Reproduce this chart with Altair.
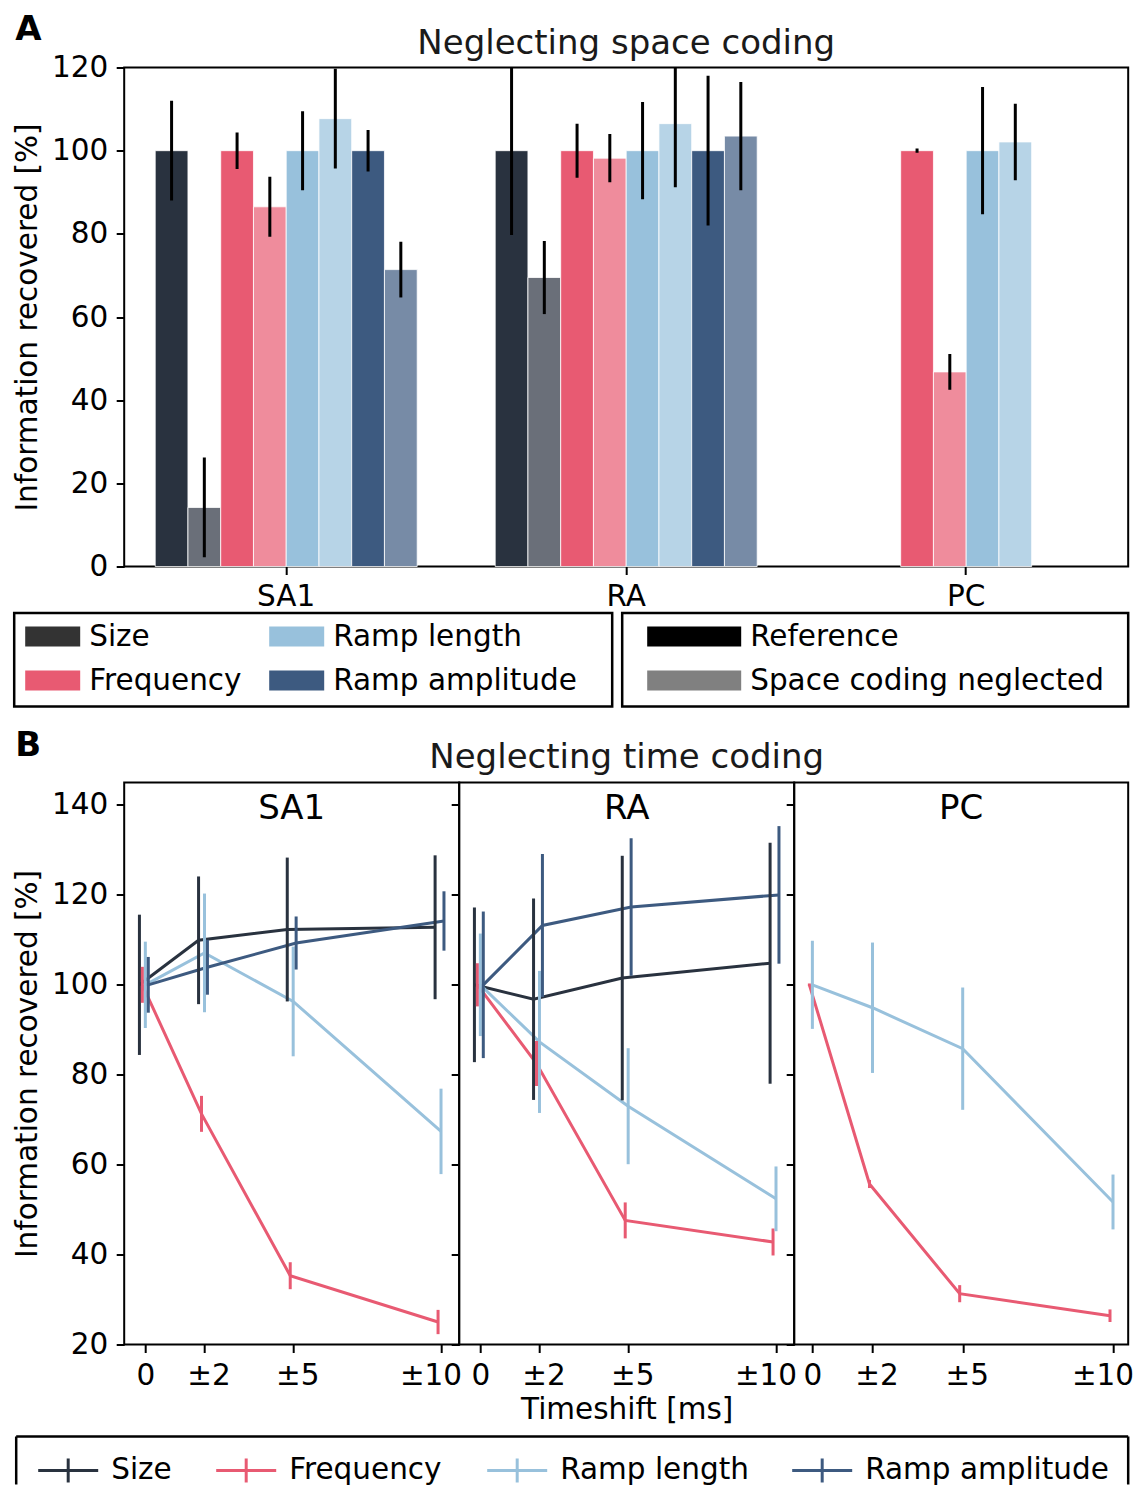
import altair as alt
import pandas as pd

FONT = "DejaVu Sans"
FS = 29.5        # tick labels, axis titles, legend text
FS_TITLE = 34    # panel titles

# ---------------------------------------------------------------- categories
regions = ["SA1", "RA", "PC"]
variables = ["Size", "Frequency", "Ramp length", "Ramp amplitude"]
conditions = ["Reference", "Space coding neglected"]
var_colors = ["#29323f", "#e85a72", "#98c1dc", "#3d5a80"]
neglected_colors = ["#6a6f79", "#ef8c9c", "#b7d4e7", "#778ba6"]
legendA_var_colors = ["#333333", "#e85a72", "#98c1dc", "#3d5a80"]
legendA_cond_colors = ["#000000", "#808080"]

# ---------------------------------------------------------------- panel A data
ref_value = {"SA1": [100, 100, 100, 100], "RA": [100, 100, 100, 100], "PC": [None, 100, 100, None]}
ref_err = {"SA1": [12.0, 4.4, 9.5, 5.0], "RA": [20.3, 6.5, 11.7, 18.0], "PC": [None, 0.5, 15.3, None]}
neg_value = {"SA1": [14.2, 86.5, 107.7, 71.4], "RA": [69.5, 98.2, 106.5, 103.5], "PC": [None, 46.8, 102.1, None]}
neg_err = {"SA1": [12.0, 7.2, 12.0, 6.7], "RA": [8.8, 5.8, 15.3, 13.0], "PC": [None, 4.3, 9.2, None]}

# ---------------------------------------------------------------- panel B data
shifts = [0, 2, 5, 10]
shift_labels = ["0", "±2", "±5", "±10"]
x_offsets = [-0.2, -0.1, 0.0, 0.1]   # per variable (Size, Frequency, Ramp length, Ramp amplitude)
B_mean = {
    "SA1": {"Size": [100, 109.9, 112.3, 112.8], "Frequency": [100, 71.3, 35.3, 25.0],
            "Ramp length": [100, 107.1, 96.3, 67.4], "Ramp amplitude": [100, 103.9, 109.3, 114.2]},
    "RA": {"Size": [100, 96.8, 101.5, 104.8], "Frequency": [100, 82.5, 47.6, 42.8],
           "Ramp length": [100, 87.3, 73.0, 52.4], "Ramp amplitude": [100, 113.2, 117.3, 120.0]},
    "PC": {"Frequency": [100, 55.7, 31.3, 26.4], "Ramp length": [100, 94.9, 85.8, 51.7]},
}
B_err = {
    "SA1": {"Size": [15.6, 14.2, 16.0, 16.0], "Frequency": [4.0, 4.0, 3.0, 2.7],
            "Ramp length": [9.6, 13.2, 12.2, 9.5], "Ramp amplitude": [6.2, 6.1, 5.9, 6.6]},
    "RA": {"Size": [17.2, 22.4, 27.2, 26.8], "Frequency": [4.8, 5.0, 4.0, 3.0],
           "Ramp length": [11.4, 15.8, 12.9, 7.2], "Ramp amplitude": [16.3, 15.9, 15.3, 15.3]},
    "PC": {"Frequency": [0.3, 0.9, 1.9, 1.4], "Ramp length": [9.8, 14.5, 13.6, 6.1]},
}
B_xdomain = {"SA1": [-0.715, 10.615], "RA": [-0.715, 10.615], "PC": [-0.605, 10.505]}

# ================================================================ panel A
rows = []
for r in regions:
    for i, v in enumerate(variables):
        for c, vals, errs in ((conditions[0], ref_value, ref_err), (conditions[1], neg_value, neg_err)):
            val = vals[r][i]
            if val is None:
                continue
            e = errs[r][i]
            rows.append(dict(region=r, variable=v, condition=c, slot=f"{v} / {c}",
                             value=val, lo=val - e, hi=val + e))
dfA = pd.DataFrame(rows)
slot_order = [f"{v} / {c}" for v in variables for c in conditions]
slot_colors = []
for a, b in zip(var_colors, neglected_colors):
    slot_colors += [a, b]

WA, HA = 1004, 499
yscaleA = alt.Scale(domain=[0, 120], nice=False)
axisYA = alt.Axis(values=[0, 20, 40, 60, 80, 100, 120], titlePadding=8.5, labelPadding=8.5)
x_region = alt.X("region:N", sort=regions, title=None,
                 scale=alt.Scale(domain=regions, paddingInner=0.2294, paddingOuter=0.0912),
                 axis=alt.Axis(labelAngle=0, labelPadding=8))
x_slot = alt.XOffset("slot:N", sort=slot_order,
                     scale=alt.Scale(domain=slot_order, paddingInner=0, paddingOuter=0))

bars = alt.Chart(dfA).mark_bar(stroke="white", strokeWidth=0.8).encode(
    x=x_region, xOffset=x_slot,
    y=alt.Y("value:Q", title="Information recovered [%]", scale=yscaleA, axis=axisYA),
    color=alt.Color("slot:N", scale=alt.Scale(domain=slot_order, range=slot_colors), legend=None),
)
errA = alt.Chart(dfA).mark_rule(color="black", strokeWidth=3, clip=True).encode(
    x=x_region, xOffset=x_slot,
    y=alt.Y("lo:Q", title="Information recovered [%]", scale=yscaleA, axis=axisYA),
    y2="hi:Q",
)

def px(field):
    return alt.X(field, type="quantitative", scale=None, axis=None)

def py(field):
    return alt.Y(field, type="quantitative", scale=None, axis=None)

# legend A (positions relative to the plot area)
row_y = [569, 613]
boxesA = pd.DataFrame({"x0": [-110, 498], "x1": [488, 1004], "y0": [545.5, 545.5], "y1": [639, 639]})
swA = []
for i, (lab, col) in enumerate(zip(variables, legendA_var_colors)):
    c, rr = i // 2, i % 2
    x0 = -99 + c * 244
    swA.append(dict(label=lab, color=col, x0=x0, x1=x0 + 55, yc=row_y[rr]))
for i, (lab, col) in enumerate(zip(conditions, legendA_cond_colors)):
    swA.append(dict(label=lab, color=col, x0=523, x1=617, yc=row_y[i]))
swA = pd.DataFrame(swA)
swA["y0"] = swA["yc"] - 10
swA["y1"] = swA["yc"] + 10
swA["tx"] = swA["x1"] + 9

boxA = alt.Chart(boxesA).mark_rect(fill="white", fillOpacity=0, stroke="black", strokeWidth=2.5).encode(
    x=px("x0"), x2="x1", y=py("y0"), y2="y1")
swatchA = alt.Chart(swA).mark_rect().encode(
    x=px("x0"), x2="x1", y=py("y0"), y2="y1", color=alt.Color("color:N", scale=None))
textA = alt.Chart(swA).mark_text(align="left", baseline="middle", font=FONT, fontSize=FS, color="black").encode(
    x=px("tx"), y=py("yc"), text="label:N")

tagA = alt.Chart(pd.DataFrame({"t": ["A"]})).mark_text(
    align="left", baseline="alphabetic", font=FONT, fontSize=FS_TITLE, fontWeight="bold", color="black"
).encode(text="t:N", x=alt.value(-109), y=alt.value(-27.5))
titleA = alt.Chart(pd.DataFrame({"t": ["Neglecting space coding"]})).mark_text(
    align="center", baseline="alphabetic", font=FONT, fontSize=FS_TITLE, color="#1a1a1a"
).encode(text="t:N", x=alt.value(WA / 2), y=alt.value(-13.5))

chartA = alt.layer(bars, errA, boxA, swatchA, textA, tagA, titleA).properties(width=WA, height=HA)

# ================================================================ panel B
rowsB = []
for r in regions:
    for v, off in zip(variables, x_offsets):
        if v not in B_mean[r]:
            continue
        for s, m, e in zip(shifts, B_mean[r][v], B_err[r][v]):
            rowsB.append(dict(region=r, variable=v, shift=s, xpos=s + off, value=m, lo=m - e, hi=m + e))
dfB = pd.DataFrame(rowsB)

label_expr = " : ".join(f"datum.value == {s} ? '{l}'" for s, l in zip(shifts, shift_labels)) + " : ''"
label_offset = {
    "condition": [
        {"test": "datum.value == 10", "value": -10.5},
        {"test": "datum.value == 2 || datum.value == 5", "value": 4},
    ],
    "value": 0,
}
yscaleB = alt.Scale(domain=[20, 145], nice=False, zero=False)
HB = 562
widthsB = {"SA1": 335, "RA": 335, "PC": 334}
colorB = alt.Color("variable:N", scale=alt.Scale(domain=variables, range=var_colors), legend=None)

panels = []
for r in regions:
    w = widthsB[r]
    d = dfB[dfB.region == r]
    xax = alt.Axis(values=shifts, labelExpr=label_expr, labelPadding=9, titlePadding=6,
                   labelOffset=label_offset,
                   title="Timeshift [ms]" if r == "RA" else None)
    if r == "SA1":
        yax = alt.Axis(values=[20, 40, 60, 80, 100, 120, 140], titlePadding=8.5, labelPadding=8.5,
                       title="Information recovered [%]")
    else:
        yax = alt.Axis(values=[20, 40, 60, 80, 100, 120, 140], labels=False, title=None)
    xenc = alt.X("xpos:Q", scale=alt.Scale(domain=B_xdomain[r], nice=False, zero=False), axis=xax)
    lines = alt.Chart(d).mark_line(strokeWidth=3).encode(
        x=xenc, y=alt.Y("value:Q", scale=yscaleB, axis=yax), color=colorB, order="xpos:Q")
    errs = alt.Chart(d).mark_rule(strokeWidth=3).encode(
        x=xenc, y=alt.Y("lo:Q", scale=yscaleB, axis=yax), y2="hi:Q", color=colorB)
    lab = alt.Chart(pd.DataFrame({"t": [r]})).mark_text(
        align="center", baseline="alphabetic", font=FONT, fontSize=FS_TITLE, color="black"
    ).encode(text="t:N", x=alt.value(w / 2), y=alt.value(37))
    layers = [lines, errs, lab]
    if r == "SA1":
        tagB = alt.Chart(pd.DataFrame({"t": ["B"]})).mark_text(
            align="left", baseline="alphabetic", font=FONT, fontSize=FS_TITLE, fontWeight="bold", color="black"
        ).encode(text="t:N", x=alt.value(-109), y=alt.value(-26))
        # legend B (positions relative to SA1 plot area)
        frame = pd.DataFrame({"x0": [-108, -108, 1004], "x1": [-108, 1004, 1004],
                              "y0": [654, 654, 654], "y1": [702, 654, 702]})
        cx = [-56, 122, 393, 698]
        segs = []
        items = []
        for v, col, c in zip(variables, var_colors, cx):
            segs.append(dict(color=col, x0=c - 30, x1=c + 30, y0=688, y1=688))
            segs.append(dict(color=col, x0=c, x1=c, y0=676, y1=700))
            items.append(dict(label=v, tx=c + 43, yc=688))
        frameL = alt.Chart(frame).mark_rule(color="black", strokeWidth=2.5).encode(
            x=px("x0"), x2="x1", y=py("y0"), y2="y1")
        crossL = alt.Chart(pd.DataFrame(segs)).mark_rule(strokeWidth=3).encode(
            x=px("x0"), x2="x1", y=py("y0"), y2="y1", color=alt.Color("color:N", scale=None))
        textL = alt.Chart(pd.DataFrame(items)).mark_text(
            align="left", baseline="middle", font=FONT, fontSize=FS, color="black"
        ).encode(x=px("tx"), y=py("yc"), text="label:N")
        layers += [tagB, frameL, crossL, textL]
    if r == "RA":
        titleB = alt.Chart(pd.DataFrame({"t": ["Neglecting time coding"]})).mark_text(
            align="center", baseline="alphabetic", font=FONT, fontSize=FS_TITLE, color="#1a1a1a"
        ).encode(text="t:N", x=alt.value(w / 2), y=alt.value(-14))
        layers.append(titleB)
    panels.append(alt.layer(*layers).properties(width=w, height=HB))

chartB = alt.hconcat(*panels, spacing=0, bounds="flush")

chart = alt.vconcat(chartA, chartB, spacing=19).resolve_scale(color="independent").properties(
    padding={"left": 3.2, "top": 3.5, "right": 0, "bottom": 0}
).configure(font=FONT).configure_view(
    stroke="black", strokeWidth=2
).configure_axis(
    labelFont=FONT, titleFont=FONT, labelFontSize=FS, titleFontSize=FS,
    titleFontWeight="normal", labelColor="black", titleColor="black",
    tickColor="black", tickWidth=2, tickSize=8, domain=False, grid=False,
    labelFlush=False, labelOverlap=False,
)

chart.save("out.html", embed_options={"renderer": "svg", "actions": False})
